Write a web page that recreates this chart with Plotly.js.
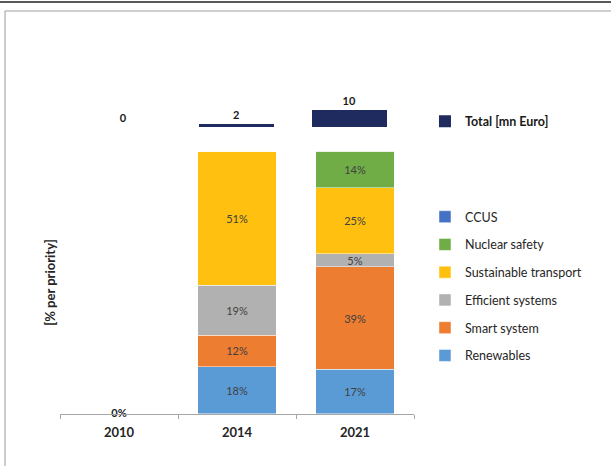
<!DOCTYPE html>
<html>
<head>
<meta charset="utf-8">
<script src="https://cdn.plot.ly/plotly-3.0.1.min.js"></script>
<style>
html,body{margin:0;padding:0;background:#fff;}
#chart{width:611px;height:466px;}
</style>
</head>
<body>
<div id="chart"></div>
<script>
const years = ['2010', '2014', '2021'];
const renewables = [0, 18, 17];
const smartSystem = [0, 12, 39];
const efficientSystems = [0, 19, 5];
const sustainableTransport = [0, 51, 25];
const nuclearSafety = [0, 0, 14];
const ccus = [0, 0, 0];
const totalMnEuro = [0, 2, 10];
const zeroLabelYear = ['2010'];
const zeroLabelValue = [0];
const zeroLabelText = ['0%'];

const FONT = 'Lato, "Open Sans", sans-serif';
const pctText = v => v.map(x => x > 0 ? x + '%' : '');

const series = [
  {name: 'Renewables', y: renewables, color: '#5B9BD5', rank: 7},
  {name: 'Smart system', y: smartSystem, color: '#ED7D31', rank: 6},
  {name: 'Efficient systems', y: efficientSystems, color: '#B1B1B1', rank: 5},
  {name: 'Sustainable transport', y: sustainableTransport, color: '#FFC00F', rank: 4},
  {name: 'Nuclear safety', y: nuclearSafety, color: '#70AD47', rank: 3},
  {name: 'CCUS', y: ccus, color: '#4472C4', rank: 2}
];

const traces = series.map((s, i) => ({
  type: 'bar',
  x: years,
  y: s.y,
  name: s.name,
  legend: 'legend2',
  legendgroup: 'g' + s.rank,
  legendrank: s.rank,
  marker: {color: s.color, line: {color: 'rgba(255,255,255,0.6)', width: 0.8}},
  text: pctText(s.y),
  textposition: 'inside',
  insidetextanchor: 'middle',
  constraintext: 'none',
  textangle: 0,
  textfont: {family: FONT, size: 11, color: '#404040'},
  hoverinfo: 'skip'
}));

traces.push({
  type: 'scatter',
  mode: 'text',
  x: zeroLabelYear,
  y: zeroLabelValue,
  text: zeroLabelText,
  textposition: 'middle center',
  textfont: {family: FONT, size: 11, color: '#1a1a1a', weight: 'bold'},
  cliponaxis: false,
  showlegend: false,
  hoverinfo: 'skip'
});

traces.push({
  type: 'bar',
  x: years,
  y: totalMnEuro,
  name: 'Total [mn Euro]',
  xaxis: 'x2',
  yaxis: 'y2',
  legend: 'legend',
  legendrank: 1,
  marker: {color: '#1F2A5E', line: {width: 0}},
  text: totalMnEuro.map(String),
  textposition: 'outside',
  textfont: {family: FONT, size: 11, color: '#1a1a1a', weight: 'bold'},
  cliponaxis: false,
  hoverinfo: 'skip'
});

// pixel helpers for paper coords: plot x 60..414, y 80..414
const px = x => (x - 60) / 354;
const py = y => (414 - y) / 334;

const layout = {
  width: 611,
  height: 466,
  margin: {l: 60, r: 197, t: 80, b: 52},
  paper_bgcolor: '#ffffff',
  plot_bgcolor: 'rgba(0,0,0,0)',
  font: {family: FONT, color: '#262626'},
  barmode: 'stack',
  bargap: 0.337,
  showlegend: true,
  xaxis: {
    type: 'category',
    range: [-0.5, 2.5],
    domain: [0, 1],
    anchor: 'y',
    showline: true,
    linecolor: '#A6A6A6',
    linewidth: 1,
    ticks: 'outside',
    tickson: 'boundaries',
    ticklen: 4,
    tickcolor: '#A6A6A6',
    ticklabelstandoff: 6,
    tickfont: {family: FONT, size: 13, color: '#262626', weight: 'bold'},
    showgrid: false,
    zeroline: false,
    fixedrange: true
  },
  yaxis: {
    domain: [0, 0.7874],
    range: [0, 100],
    showticklabels: false,
    showgrid: false,
    zeroline: false,
    showline: false,
    ticks: '',
    title: {text: '[% per priority]', font: {family: FONT, size: 13, color: '#262626', weight: 'bold'}, standoff: 0},
    automargin: false,
    fixedrange: true
  },
  xaxis2: {
    type: 'category',
    range: [-0.5, 2.5],
    domain: [0.019, 0.9765],
    anchor: 'y2',
    visible: false,
    fixedrange: true
  },
  yaxis2: {
    domain: [0.8593, 1],
    range: [0, 27.2],
    anchor: 'x2',
    visible: false,
    fixedrange: true
  },
  legend: {
    x: 1.031, y: 0.92, xanchor: 'left', yanchor: 'top',
    bgcolor: 'rgba(0,0,0,0)',
    font: {family: FONT, size: 12.5, color: '#1a1a1a', weight: 'bold'}
  },
  legend2: {
    x: 1.031, y: 0.6345, xanchor: 'left', yanchor: 'top',
    bgcolor: 'rgba(0,0,0,0)',
    traceorder: 'grouped',
    tracegroupgap: 8.5,
    font: {family: FONT, size: 12.5, color: '#262626'}
  },
  shapes: [
    {type: 'line', xref: 'paper', yref: 'paper', x0: px(0), x1: px(611), y0: py(2), y1: py(2), line: {color: '#222222', width: 1.5}},
    {type: 'line', xref: 'paper', yref: 'paper', x0: px(5), x1: px(611), y0: py(11), y1: py(11), line: {color: '#CFCFCF', width: 2}},
    {type: 'line', xref: 'paper', yref: 'paper', x0: px(5), x1: px(5), y0: py(11), y1: py(466), line: {color: '#9A9A9A', width: 1}}
  ]
};

Plotly.newPlot('chart', traces, layout, {displayModeBar: false, staticPlot: true});
</script>
</body>
</html>
